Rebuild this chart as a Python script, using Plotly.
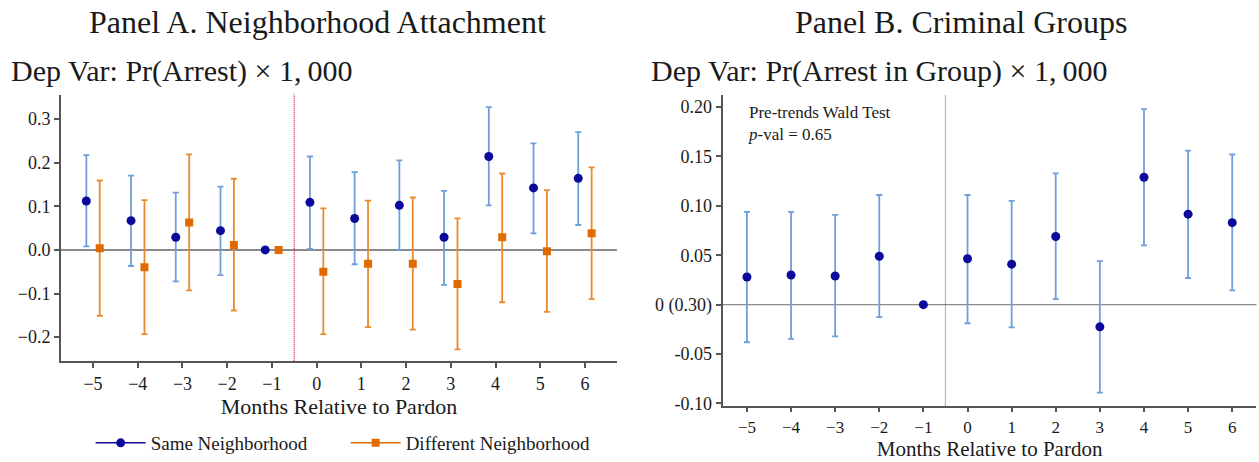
import numpy as np
import plotly.graph_objects as go

# ---- data -------------------------------------------------------------
months = [-5, -4, -3, -2, -1, 0, 1, 2, 3, 4, 5, 6]
month_labels = ["\u22125", "\u22124", "\u22123", "\u22122", "\u22121", "0", "1", "2", "3", "4", "5", "6"]

# Panel A: Pr(Arrest) x 1,000
same_est = [0.112, 0.067, 0.029, 0.044, 0.0, 0.109, 0.072, 0.102, 0.029, 0.214, 0.142, 0.164]
same_lo = [0.008, -0.037, -0.072, -0.058, 0.0, 0.002, -0.033, 0.000, -0.080, 0.102, 0.038, 0.057]
same_hi = [0.217, 0.170, 0.131, 0.145, 0.0, 0.214, 0.178, 0.205, 0.135, 0.327, 0.244, 0.270]

diff_est = [0.004, -0.040, 0.063, 0.011, 0.0, -0.050, -0.032, -0.032, -0.078, 0.029, -0.003, 0.038]
diff_lo = [-0.151, -0.193, -0.093, -0.139, 0.0, -0.193, -0.177, -0.183, -0.228, -0.120, -0.142, -0.113]
diff_hi = [0.159, 0.114, 0.219, 0.163, 0.0, 0.095, 0.113, 0.120, 0.072, 0.175, 0.137, 0.189]

# Panel B: Pr(Arrest in Group) x 1,000
group_est = [0.028, 0.030, 0.029, 0.049, 0.0, 0.0465, 0.041, 0.069, -0.0224, 0.129, 0.0916, 0.083]
group_lo = [-0.038, -0.0346, -0.032, -0.0126, 0.0, -0.0188, -0.023, 0.0056, -0.089, 0.060, 0.027, 0.0144]
group_hi = [0.094, 0.094, 0.091, 0.111, 0.0, 0.111, 0.105, 0.133, 0.044, 0.198, 0.156, 0.152]

a_ytick_vals = [-0.2, -0.1, 0.0, 0.1, 0.2, 0.3]
a_ytick_text = ["\u22120.2", "\u22120.1", "0.0", "0.1", "0.2", "0.3"]
b_ytick_vals = [-0.10, -0.05, 0.0, 0.05, 0.10, 0.15, 0.20]
b_ytick_text = ["-0.10", "-0.05", "0 (0.30)", "0.05", "0.10", "0.15", "0.20"]

# ---- styling ----------------------------------------------------------
FONT = "Liberation Serif"
TXT = "#1a1a1a"
NAVY = "#0c0a9c"
LIGHT_BLUE = "#6e9fdc"
ORANGE = "#e06a00"
LIGHT_ORANGE = "#e98a2e"
SPINE = "#555555"
OFFSET = 0.15


def err(est, lo, hi):
    est, lo, hi = map(np.asarray, (est, lo, hi))
    return dict(type="data", symmetric=False, array=hi - est, arrayminus=est - lo,
                thickness=1.8, width=3)


x = np.asarray(months, dtype=float)
fig = go.Figure()

# Panel A traces
e = err(same_est, same_lo, same_hi)
e["color"] = LIGHT_BLUE
fig.add_trace(go.Scatter(x=x - OFFSET, y=same_est, mode="markers", error_y=e,
                         marker=dict(symbol="circle", size=9, color=NAVY),
                         showlegend=False, xaxis="x", yaxis="y"))
e = err(diff_est, diff_lo, diff_hi)
e["color"] = LIGHT_ORANGE
fig.add_trace(go.Scatter(x=x + OFFSET, y=diff_est, mode="markers", error_y=e,
                         marker=dict(symbol="square", size=8, color=ORANGE),
                         showlegend=False, xaxis="x", yaxis="y"))

# legend entries (line + marker)
fig.add_trace(go.Scatter(x=[None], y=[None], mode="lines+markers", name="Same Neighborhood",
                         line=dict(color=NAVY, width=1.5),
                         marker=dict(symbol="circle", size=9, color=NAVY),
                         xaxis="x", yaxis="y"))
fig.add_trace(go.Scatter(x=[None], y=[None], mode="lines+markers", name="Different Neighborhood",
                         line=dict(color=ORANGE, width=1.5),
                         marker=dict(symbol="square", size=8, color=ORANGE),
                         xaxis="x", yaxis="y"))

# Panel B trace
e = err(group_est, group_lo, group_hi)
e["color"] = LIGHT_BLUE
fig.add_trace(go.Scatter(x=x, y=group_est, mode="markers", error_y=e,
                         marker=dict(symbol="circle", size=9, color=NAVY),
                         showlegend=False, xaxis="x2", yaxis="y2"))

axis_common = dict(showline=True, linecolor=SPINE, linewidth=2, ticks="outside",
                   ticklen=5, tickwidth=1.5, tickcolor=SPINE, showgrid=False,
                   zeroline=False, tickfont=dict(family=FONT, size=18, color=TXT))
axis_b_x = dict(axis_common, ticklen=4, tickfont=dict(family=FONT, size=17, color=TXT))

fig.update_layout(
    width=1259, height=462,
    margin=dict(l=0, r=0, t=0, b=0),
    paper_bgcolor="white", plot_bgcolor="white",
    font=dict(family=FONT, color=TXT),
    xaxis=dict(domain=[0.0485, 0.490], range=[-5.715, 6.715],
               tickvals=months, ticktext=month_labels, anchor="y",
               title=dict(text="Months Relative to Pardon", font=dict(size=22, family=FONT),
                          standoff=0),
               **axis_common),
    yaxis=dict(domain=[0.2063, 0.7922], range=[-0.255, 0.356],
               tickvals=a_ytick_vals, ticktext=a_ytick_text, anchor="x", **axis_common),
    xaxis2=dict(domain=[0.574, 0.998], range=[-5.55, 6.55],
                tickvals=months, ticktext=month_labels, anchor="y2",
                title=dict(text="Months Relative to Pardon", font=dict(size=21, family=FONT),
                           standoff=0),
                **axis_b_x),
    yaxis2=dict(domain=[0.1067, 0.7907], range=[-0.103, 0.212],
                tickvals=b_ytick_vals, ticktext=b_ytick_text, anchor="x2", **axis_common),
    legend=dict(orientation="h", x=0.072, y=0.026, xanchor="left", yanchor="middle",
                itemwidth=50, entrywidth=190,
                font=dict(family=FONT, size=19, color=TXT), bgcolor="rgba(0,0,0,0)"),
)

# zero lines and event line
fig.add_shape(type="line", xref="x domain", yref="y", x0=0, x1=1, y0=0, y1=0,
              line=dict(color="#8a8a8a", width=2), layer="below")
fig.add_shape(type="line", xref="x2 domain", yref="y2", x0=0, x1=1, y0=0, y1=0,
              line=dict(color="#8a8a8a", width=1.2), layer="below")
fig.add_shape(type="line", xref="x", yref="y domain", x0=-0.5, x1=-0.5, y0=0, y1=1,
              line=dict(color="#c0102a", width=1.2, dash="1px,1px"))
fig.add_shape(type="line", xref="x2", yref="y2 domain", x0=-0.5, x1=-0.5, y0=0, y1=1,
              line=dict(color="rgba(200,40,60,0.85)", width=1.2, dash="1px,1px"))

# titles
fig.add_annotation(text="Panel A. Neighborhood Attachment", xref="paper", yref="paper",
                   x=318 / 1259, y=1 - 22 / 462, xanchor="center", yanchor="middle",
                   showarrow=False, font=dict(family=FONT, size=32, color=TXT))
fig.add_annotation(text="Panel B. Criminal Groups", xref="paper", yref="paper",
                   x=961 / 1259, y=1 - 22 / 462, xanchor="center", yanchor="middle",
                   showarrow=False, font=dict(family=FONT, size=32, color=TXT))
fig.add_annotation(text="Dep Var: Pr(Arrest) \u00d7 1,\u2009000", xref="paper", yref="paper",
                   x=9 / 1259, y=1 - 72 / 462, xanchor="left", yanchor="middle",
                   showarrow=False, font=dict(family=FONT, size=30, color=TXT))
fig.add_annotation(text="Dep Var: Pr(Arrest in Group) \u00d7 1,\u2009000", xref="paper", yref="paper",
                   x=649 / 1259, y=1 - 72 / 462, xanchor="left", yanchor="middle",
                   showarrow=False, font=dict(family=FONT, size=30, color=TXT))
fig.add_annotation(text="Pre-trends Wald Test<br><i>p</i>-val = 0.65", xref="paper", yref="paper",
                   x=746 / 1259, y=1 - 125 / 462, xanchor="left", yanchor="middle", align="left",
                   showarrow=False, font=dict(family=FONT, size=17, color=TXT))

fig.write_html("out.html")
